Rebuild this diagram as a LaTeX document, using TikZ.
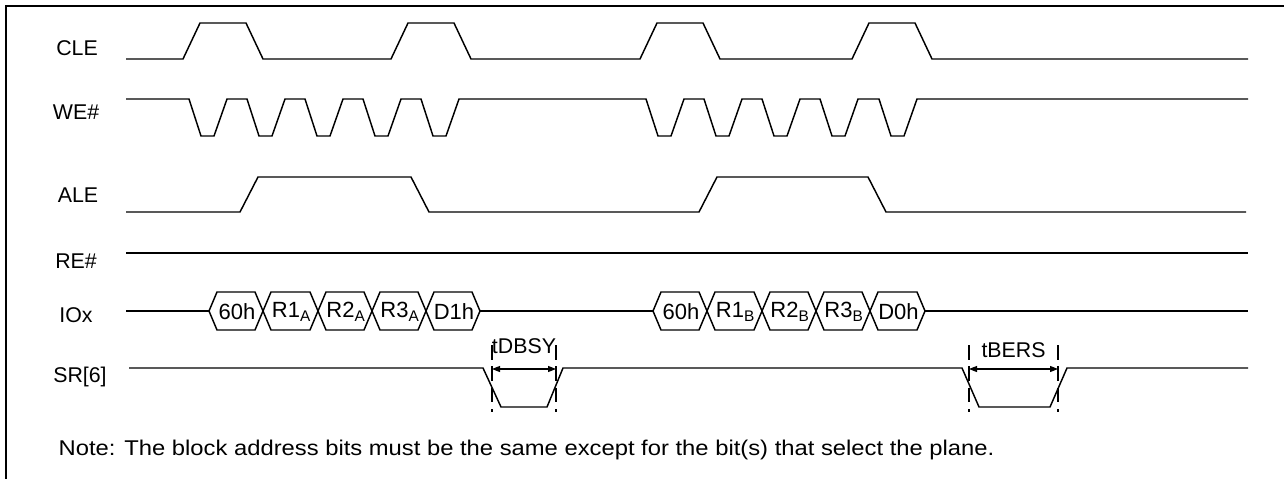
\documentclass[tikz,border=0pt]{standalone}
\usepackage{fontspec}
\setmainfont{Liberation Sans}
\usetikzlibrary{arrows.meta}

\begin{document}
\begin{tikzpicture}[x=0.75pt,y=-0.75pt,
  sig/.style={line width=1.1pt,line join=miter},
  lbl/.style={font=\fontsize{16}{18}\selectfont},
  cell/.style={font=\fontsize{16.5}{18}\selectfont,inner sep=0pt},
  tickline/.style={line width=0.8pt,dash pattern=on 11pt off 5pt}]
\useasboundingbox (0,0) rectangle (1284,478);

% Frame
\draw[line width=1.2pt] (6,500) -- (6,6) -- (1300,6);

% Signal names
\node[lbl] (cle) at (77,48) {CLE};
\node[lbl] (we) at (76,112) {WE\#};
\node[lbl] (ale) at (78,195) {ALE};
\node[lbl] (re) at (76,261) {RE\#};
\node[lbl] (iox) at (76,315) {IOx};
\node[lbl] (sr) at (80,377) {SR[6]};

% CLE
\draw[sig] (126,59) foreach \s in {183,391,640,852}
  { -- (\s,59) -- ++(17,-36) -- ++(46,0) -- ++(17,36) } -- (1248,59);

% WE#
\draw[sig] (126,99) foreach \s in {189,247,305,363,421,646,704,762,820,879}
  { -- (\s,99) -- ++(12,37) -- ++(13,0) -- ++(13,-37) } -- (1248,99);

% ALE
\draw[sig] (126,212) -- (240,212) -- (258,177) -- (411,177) -- (429,212)
  -- (699,212) -- (717,177) -- (868,177) -- (886,212) -- (1246,212);

% RE#
\draw[sig] (126,253) -- (1248,253);

% IOx
\draw[sig] (126,311) -- (209,311);
\draw[sig] (480,311) -- (653,311);
\draw[sig] (925,311) -- (1248,311);
\foreach \a/\b/\t [count=\i] in {209/263/60h, 263/318/R1\textsubscript{A},
    318/372/R2\textsubscript{A}, 372/426/R3\textsubscript{A}, 426/480/D1h,
    653/707/60h, 707/762/R1\textsubscript{B}, 762/816/R2\textsubscript{B},
    816/870/R3\textsubscript{B}, 870/925/D0h}
{
  \draw[sig] (\a,311) -- (\a+8,292) -- (\b-8,292) -- (\b,311)
    -- (\b-8,330) -- (\a+8,330) -- cycle;
  \node[cell] (io\i) at ({(\a+\b)/2+1},312) {\t};
}

% SR[6]
\draw[sig] (129,368) -- (483,368) -- (501,407) -- (547,407) -- (563,368)
  -- (962,368) -- (979,407) -- (1050,407) -- (1067,368) -- (1248,368);

% Busy times
\foreach \a/\b/\n/\t/\y in {492/556/tdbsy/tDBSY/346, 969/1058/tbers/tBERS/350}
{
  \draw[tickline] (\a,345) -- (\a,412);
  \draw[tickline] (\b,345) -- (\b,412);
  \coordinate (\n L) at (\a,369);
  \coordinate (\n R) at (\b,369);
  \draw[line width=0.8pt,{Triangle[length=6pt,width=4.5pt]}-{Triangle[length=6pt,width=4.5pt]}]
    (\n L) -- (\n R);
  \node[lbl,inner sep=0pt] (\n) at ({(\a+\b)/2},\y) {\t};
}

% Note
\node[lbl,anchor=base west] (note) at (54,455)
  {\scalebox{1.115}[1]{Note: The block address bits must be the same except for the bit(s) that select the plane.}};
\end{tikzpicture}
\end{document}
